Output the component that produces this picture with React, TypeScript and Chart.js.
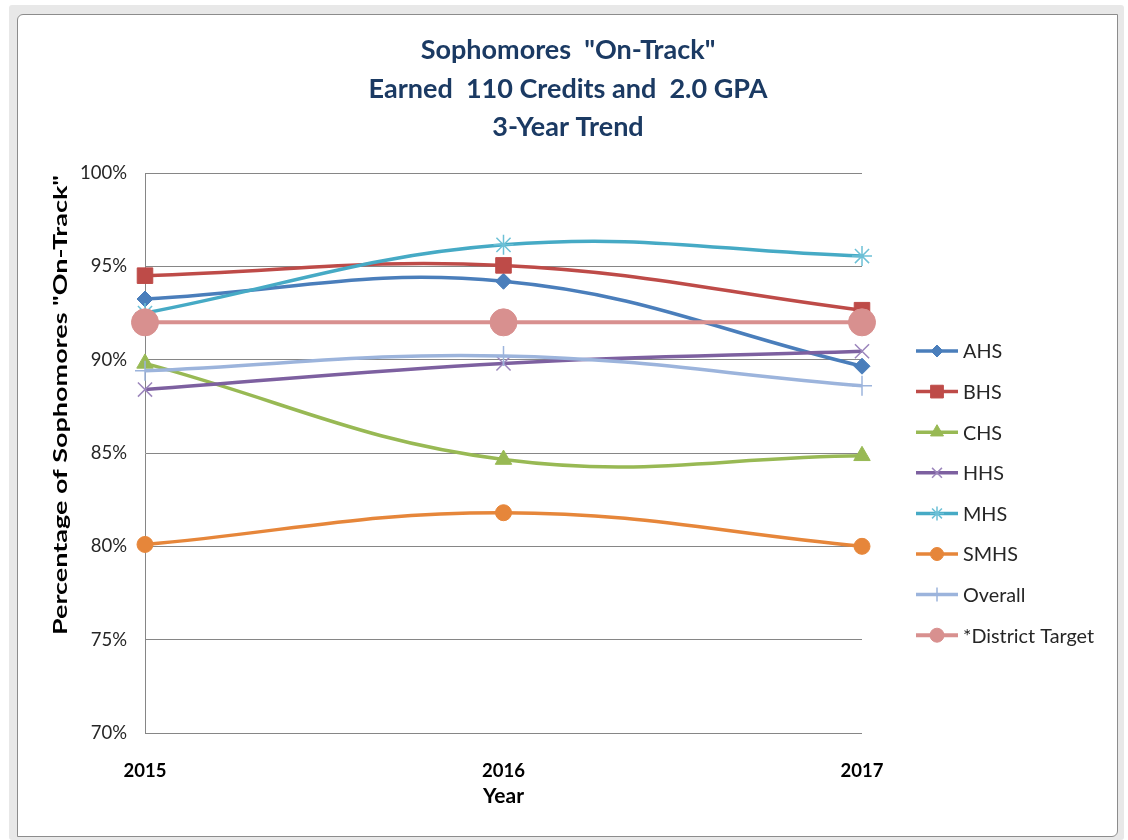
import React, { useEffect, useRef } from "react";
import { Chart, registerables } from "chart.js";
import * as helpers from "chart.js/helpers";

Chart.register(...registerables);

const years = ["2015", "2016", "2017"];
const seriesNames = ["AHS", "BHS", "CHS", "HHS", "MHS", "SMHS", "Overall", "*District Target"];
const ahs = [93.25, 94.2, 89.65];
const bhs = [94.5, 95.05, 92.65];
const chs = [89.8, 84.65, 84.85];
const hhs = [88.4, 89.8, 90.45];
const mhs = [92.5, 96.15, 95.55];
const smhs = [80.1, 81.8, 80.0];
const overall = [89.4, 90.2, 88.6];
const target = [92, 92, 92];
const yMin = 70;
const yMax = 100;
const yStep = 5;
const titleLines = ['Sophomores  "On-Track"', "Earned  110 Credits and  2.0 GPA", "3-Year Trend"];
const xTitle = "Year";
const yTitle = 'Percentage of Sophomores "On-Track"';

const FONT = "Lato, 'Open Sans', sans-serif";

type Style = {
  color: string;
  pointColor: string;
  pointStyle: string;
  radius: number;
  legendRadius: number;
  pointBorderWidth: number;
  lineWidth: number;
};

const styles: Style[] = [
  { color: "#4A7EBB", pointColor: "#4A7EBB", pointStyle: "rectRot", radius: 8, legendRadius: 6, pointBorderWidth: 1, lineWidth: 3.5 },
  { color: "#BE4B48", pointColor: "#BE4B48", pointStyle: "rect", radius: 11, legendRadius: 9, pointBorderWidth: 1, lineWidth: 3.5 },
  { color: "#98B954", pointColor: "#98B954", pointStyle: "triangle", radius: 9.5, legendRadius: 7.5, pointBorderWidth: 1, lineWidth: 3.5 },
  { color: "#7D60A0", pointColor: "#9C86BC", pointStyle: "crossRot", radius: 10, legendRadius: 7, pointBorderWidth: 1.5, lineWidth: 3.5 },
  { color: "#46AAC5", pointColor: "#6CC0D6", pointStyle: "star", radius: 10, legendRadius: 7, pointBorderWidth: 1.5, lineWidth: 3.5 },
  { color: "#E6863A", pointColor: "#E6863A", pointStyle: "circle", radius: 8, legendRadius: 6.5, pointBorderWidth: 1, lineWidth: 3.5 },
  { color: "#9CB4DC", pointColor: "#9CB4DC", pointStyle: "cross", radius: 10, legendRadius: 7, pointBorderWidth: 1.5, lineWidth: 3.5 },
  { color: "#D8908F", pointColor: "#D8908F", pointStyle: "circle", radius: 13.5, legendRadius: 7, pointBorderWidth: 1, lineWidth: 4 },
];

const seriesData = [ahs, bhs, chs, hhs, mhs, smhs, overall, target];

const textPlugin = {
  id: "customText",
  afterDraw(chart: any) {
    const ctx = chart.ctx;
    ctx.save();
    // chart title
    ctx.fillStyle = "#1B3A63";
    ctx.font = `bold 27px ${FONT}`;
    ctx.textAlign = "center";
    ctx.textBaseline = "middle";
    const ys = [50, 89, 127];
    titleLines.forEach((t, i) => ctx.fillText(t, 568, ys[i]));
    // y axis title, stretched along its length to the reference's extent
    ctx.font = `bold 18.5px ${FONT}`;
    ctx.fillStyle = "#000";
    const w = ctx.measureText(yTitle).width;
    const targetLen = 460;
    ctx.translate(61, 405);
    ctx.rotate(-Math.PI / 2);
    ctx.scale(targetLen / w, 1);
    ctx.textAlign = "center";
    ctx.textBaseline = "middle";
    ctx.fillText(yTitle, 0, 0);
    ctx.restore();
  },
};

const legendPlugin = {
  id: "customLegend",
  afterDraw(chart: any) {
    const ctx = chart.ctx;
    ctx.save();
    chart.data.datasets.forEach((ds: any, i: number) => {
      const st = styles[i];
      const y = 351 + i * 40.6;
      ctx.strokeStyle = ds.borderColor;
      ctx.lineWidth = st.lineWidth;
      ctx.beginPath();
      ctx.moveTo(916, y);
      ctx.lineTo(958, y);
      ctx.stroke();
      ctx.fillStyle = st.pointColor;
      ctx.strokeStyle = st.pointColor;
      ctx.lineWidth = st.pointBorderWidth;
      helpers.drawPoint(ctx, { pointStyle: st.pointStyle as any, rotation: 0, radius: st.legendRadius, borderWidth: st.pointBorderWidth }, 937, y);
      ctx.fillStyle = "#262626";
      ctx.font = `19.8px ${FONT}`;
      ctx.textAlign = "left";
      ctx.textBaseline = "middle";
      ctx.fillText(ds.label, 963, y + 1);
    });
    ctx.restore();
  },
};

export default function App() {
  const ref = useRef<HTMLCanvasElement | null>(null);
  useEffect(() => {
    if (!ref.current) return;
    const datasets = seriesNames.map((name, i) => {
      const st = styles[i];
      return {
        label: name,
        data: seriesData[i],
        borderColor: st.color,
        backgroundColor: st.color,
        borderWidth: st.lineWidth,
        tension: i === 7 ? 0 : 0.4,
        pointStyle: st.pointStyle,
        pointRadius: st.radius,
        pointBackgroundColor: st.pointColor,
        pointBorderColor: st.pointColor,
        pointBorderWidth: st.pointBorderWidth,
        order: 7 - i,
        fill: false,
      };
    });
    const chart = new Chart(ref.current, {
      type: "line",
      data: { labels: years, datasets },
      options: {
        responsive: false,
        animation: false,
        layout: { padding: { left: 50, top: 173, right: 266, bottom: 31.4 } },
        plugins: { legend: { display: false }, title: { display: false }, tooltip: { enabled: false } },
        scales: {
          x: {
            offset: false,
            grid: { display: false },
            border: { display: false },
            ticks: { padding: 19, color: "#000", font: { family: FONT, size: 18.5, weight: "bold" }, maxRotation: 0 },
            title: { display: true, text: xTitle, color: "#000", padding: 0, font: { family: FONT, size: 21, weight: "bold" } },
            afterFit: (s: any) => { s.height = 75.6; },
          },
          y: {
            min: yMin,
            max: yMax,
            ticks: { stepSize: yStep, padding: 18, color: "#262626", font: { family: FONT, size: 18.5 }, callback: (v: any) => v + "%" },
            grid: { color: "#868686", drawTicks: false, lineWidth: 1 },
            border: { display: true, color: "#868686", width: 1 },
            title: { display: false },
            afterFit: (s: any) => { s.width = 95; },
          },
        },
      } as any,
      plugins: [textPlugin, legendPlugin],
    });
    return () => chart.destroy();
  }, []);

  return (
    <div style={{ position: "absolute", left: 0, top: 0, width: 1128, height: 840, overflow: "hidden", background: "#fff" }}>
      <div style={{ position: "absolute", left: 9, top: 5, width: 1115, height: 835, background: "#e8e8e8", borderRadius: 3 }} />
      <div style={{ position: "absolute", left: 17, top: 14, width: 1101, height: 823, background: "#fff", border: "1.5px solid #8c8c8c", boxSizing: "border-box", borderTopLeftRadius: 6, borderBottomRightRadius: 6 }} />
      <canvas ref={ref} width={1128} height={840} style={{ position: "absolute", left: 0, top: 0, width: 1128, height: 840 }} />
    </div>
  );
}
